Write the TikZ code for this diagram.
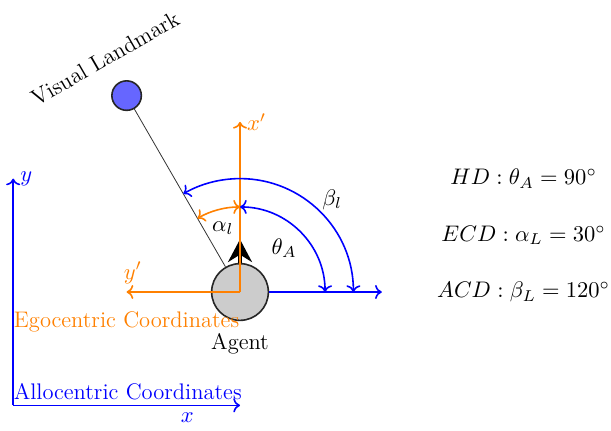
\RequirePackage{fix-cm}
\documentclass[tikz,border=0pt]{standalone}
\usepackage{tikz}
\usetikzlibrary{arrows.meta}

\begin{document}
\begin{tikzpicture}[scale=1.0, >=To, font=\fontsize{11.3}{13.6}\selectfont]
  \useasboundingbox (-4.233,-2.451) rectangle (6.543,5.150);
  % Allocentric frame (blue axes)
  \coordinate (allo) at (-4,-2);
  \coordinate (allox) at (0,-2);
  \coordinate (alloy) at (-4,2);
  \draw[blue, thick, ->] (allo) -- (allox);
  \draw[blue, thick, ->] (allo) -- (alloy);
  \node[blue] (xlab) at (-0.93,-2.22) {$x$};
  \node[blue, right] (ylab) at (alloy) {$y$};
  \node[blue] (allotext) at (-1.98,-1.76) {Allocentric Coordinates};
  % Visual landmark (blue dot) and line of sight
  \node[circle, draw=black!85, thick, fill=blue!60, minimum size=0.52cm, inner sep=0pt] (landmark) at (120:4) {};
  \node[rotate=30] (landlab) at (-2.38,4.12) {Visual Landmark};
  % Agent (gray circle)
  \node[circle, draw=black!85, thick, fill=gray!40, minimum size=1cm, inner sep=0pt] (agent) at (0,0) {};
  \draw[black!80] (landmark) -- (agent);
  \node (agentlab) at (0,-0.92) {Agent};
  % Heading
  \coordinate (head) at (0,0.93);
  \draw[-{Stealth[length=4mm, width=4.2mm]}, line width=2pt] (agent.north) -- (head);
  % Egocentric frame (orange axes)
  \coordinate (egox) at (0,3);
  \coordinate (egoy) at (-2,0);
  \draw[orange, thick, ->] (agent.center) -- (egox);
  \draw[orange, thick, ->] (agent.center) -- (egoy);
  \node[orange, right] (xplab) at (egox) {$x'$};
  \node[orange] (yplab) at (-1.89,0.34) {$y'$};
  \node[orange] (egotext) at (-2,-0.53) {Egocentric Coordinates};
  \coordinate (allox2) at (2.5,0);
  \draw[blue, thick, ->] (agent.east) -- (allox2);
  % Angles
  \draw[blue, thick, <->] ([shift={(0:1.5)}]agent.center) arc (0:90:1.5);
  \draw[blue, thick, <->] ([shift={(0:2)}]agent.center) arc (0:120:2);
  \draw[orange, thick, <->] ([shift={(90:1.5)}]agent.center) arc (90:120:1.5);
  \node (thetalab) at (45:1.1) {$\theta_A$};
  \node (betalab) at (45:2.3) {$\beta_l$};
  \node (alphalab) at (105:1.17) {$\alpha_l$};
  % Direction values
  \foreach \y/\txt [count=\i] in {2/{HD : \theta_A = 90^\circ},
      1/{ECD : \alpha_L = 30^\circ},
      0/{ACD : \beta_L = 120^\circ}} {
    \node (val\i) at (5,\y) {$\txt$};
  }
\end{tikzpicture}
\end{document}
